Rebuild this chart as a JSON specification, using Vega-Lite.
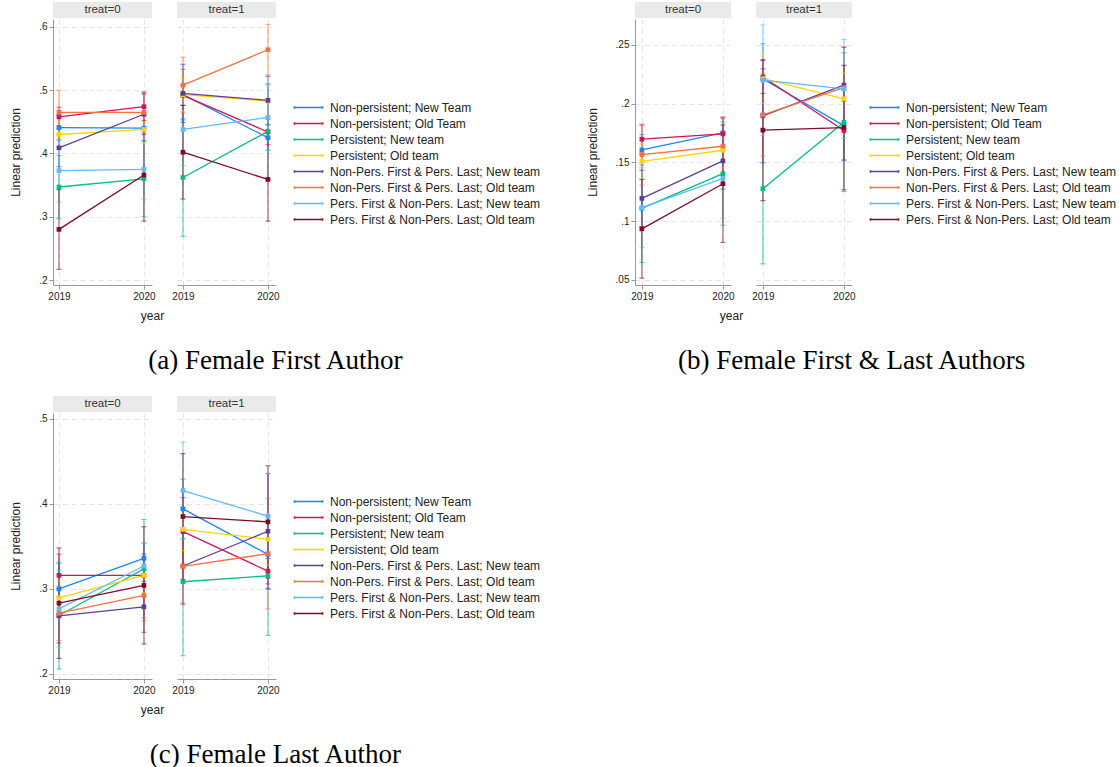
{
  "$schema": "https://vega.github.io/schema/vega-lite/v6.json",
  "padding": {"left": 9, "top": 2, "right": 0, "bottom": 0},
  "datasets": {
    "d": [
      {"f":"a","t":0,"g":"Non-persistent; New Team","year":2019,"est":0.441,"lo":0.421,"hi":0.461},
      {"f":"a","t":0,"g":"Non-persistent; New Team","year":2020,"est":0.440,"lo":0.420,"hi":0.460},
      {"f":"a","t":0,"g":"Non-persistent; Old Team","year":2019,"est":0.458,"lo":0.443,"hi":0.473},
      {"f":"a","t":0,"g":"Non-persistent; Old Team","year":2020,"est":0.474,"lo":0.452,"hi":0.496},
      {"f":"a","t":0,"g":"Persistent; New team","year":2019,"est":0.347,"lo":0.297,"hi":0.397},
      {"f":"a","t":0,"g":"Persistent; New team","year":2020,"est":0.360,"lo":0.300,"hi":0.420},
      {"f":"a","t":0,"g":"Persistent; Old team","year":2019,"est":0.430,"lo":0.410,"hi":0.450},
      {"f":"a","t":0,"g":"Persistent; Old team","year":2020,"est":0.438,"lo":0.416,"hi":0.460},
      {"f":"a","t":0,"g":"Non-Pers. First & Pers. Last; New team","year":2019,"est":0.409,"lo":0.379,"hi":0.439},
      {"f":"a","t":0,"g":"Non-Pers. First & Pers. Last; New team","year":2020,"est":0.462,"lo":0.430,"hi":0.494},
      {"f":"a","t":0,"g":"Non-Pers. First & Pers. Last; Old team","year":2019,"est":0.465,"lo":0.430,"hi":0.500},
      {"f":"a","t":0,"g":"Non-Pers. First & Pers. Last; Old team","year":2020,"est":0.465,"lo":0.432,"hi":0.498},
      {"f":"a","t":0,"g":"Pers. First & Non-Pers. Last; New team","year":2019,"est":0.373,"lo":0.323,"hi":0.423},
      {"f":"a","t":0,"g":"Pers. First & Non-Pers. Last; New team","year":2020,"est":0.375,"lo":0.327,"hi":0.423},
      {"f":"a","t":0,"g":"Pers. First & Non-Pers. Last; Old team","year":2019,"est":0.280,"lo":0.217,"hi":0.343},
      {"f":"a","t":0,"g":"Pers. First & Non-Pers. Last; Old team","year":2020,"est":0.366,"lo":0.293,"hi":0.439},

      {"f":"a","t":1,"g":"Non-persistent; New Team","year":2019,"est":0.493,"lo":0.453,"hi":0.533},
      {"f":"a","t":1,"g":"Non-persistent; New Team","year":2020,"est":0.425,"lo":0.405,"hi":0.445},
      {"f":"a","t":1,"g":"Non-persistent; Old Team","year":2019,"est":0.492,"lo":0.476,"hi":0.508},
      {"f":"a","t":1,"g":"Non-persistent; Old Team","year":2020,"est":0.434,"lo":0.414,"hi":0.454},
      {"f":"a","t":1,"g":"Persistent; New team","year":2019,"est":0.362,"lo":0.269,"hi":0.455},
      {"f":"a","t":1,"g":"Persistent; New team","year":2020,"est":0.435,"lo":0.360,"hi":0.510},
      {"f":"a","t":1,"g":"Persistent; Old team","year":2019,"est":0.493,"lo":0.467,"hi":0.519},
      {"f":"a","t":1,"g":"Persistent; Old team","year":2020,"est":0.483,"lo":0.458,"hi":0.508},
      {"f":"a","t":1,"g":"Non-Pers. First & Pers. Last; New team","year":2019,"est":0.495,"lo":0.449,"hi":0.541},
      {"f":"a","t":1,"g":"Non-Pers. First & Pers. Last; New team","year":2020,"est":0.484,"lo":0.446,"hi":0.522},
      {"f":"a","t":1,"g":"Non-Pers. First & Pers. Last; Old team","year":2019,"est":0.508,"lo":0.464,"hi":0.552},
      {"f":"a","t":1,"g":"Non-Pers. First & Pers. Last; Old team","year":2020,"est":0.564,"lo":0.524,"hi":0.604},
      {"f":"a","t":1,"g":"Pers. First & Non-Pers. Last; New team","year":2019,"est":0.438,"lo":0.381,"hi":0.495},
      {"f":"a","t":1,"g":"Pers. First & Non-Pers. Last; New team","year":2020,"est":0.457,"lo":0.405,"hi":0.509},
      {"f":"a","t":1,"g":"Pers. First & Non-Pers. Last; Old team","year":2019,"est":0.402,"lo":0.328,"hi":0.476},
      {"f":"a","t":1,"g":"Pers. First & Non-Pers. Last; Old team","year":2020,"est":0.359,"lo":0.293,"hi":0.425},

      {"f":"b","t":0,"g":"Non-persistent; New Team","year":2019,"est":0.1607,"lo":0.1477,"hi":0.1737},
      {"f":"b","t":0,"g":"Non-persistent; New Team","year":2020,"est":0.1752,"lo":0.1632,"hi":0.1872},
      {"f":"b","t":0,"g":"Non-persistent; Old Team","year":2019,"est":0.1698,"lo":0.1578,"hi":0.1818},
      {"f":"b","t":0,"g":"Non-persistent; Old Team","year":2020,"est":0.1743,"lo":0.1603,"hi":0.1883},
      {"f":"b","t":0,"g":"Persistent; New team","year":2019,"est":0.1109,"lo":0.0649,"hi":0.1569},
      {"f":"b","t":0,"g":"Persistent; New team","year":2020,"est":0.1405,"lo":0.0965,"hi":0.1845},
      {"f":"b","t":0,"g":"Persistent; Old team","year":2019,"est":0.151,"lo":0.136,"hi":0.166},
      {"f":"b","t":0,"g":"Persistent; Old team","year":2020,"est":0.1604,"lo":0.1454,"hi":0.1754},
      {"f":"b","t":0,"g":"Non-Pers. First & Pers. Last; New team","year":2019,"est":0.1194,"lo":0.0954,"hi":0.1434},
      {"f":"b","t":0,"g":"Non-Pers. First & Pers. Last; New team","year":2020,"est":0.1513,"lo":0.1273,"hi":0.1753},
      {"f":"b","t":0,"g":"Non-Pers. First & Pers. Last; Old team","year":2019,"est":0.1567,"lo":0.1307,"hi":0.1827},
      {"f":"b","t":0,"g":"Non-Pers. First & Pers. Last; Old team","year":2020,"est":0.1638,"lo":0.1388,"hi":0.1888},
      {"f":"b","t":0,"g":"Pers. First & Non-Pers. Last; New team","year":2019,"est":0.1115,"lo":0.0775,"hi":0.1455},
      {"f":"b","t":0,"g":"Pers. First & Non-Pers. Last; New team","year":2020,"est":0.1365,"lo":0.1025,"hi":0.1705},
      {"f":"b","t":0,"g":"Pers. First & Non-Pers. Last; Old team","year":2019,"est":0.0935,"lo":0.0515,"hi":0.1355},
      {"f":"b","t":0,"g":"Pers. First & Non-Pers. Last; Old team","year":2020,"est":0.1319,"lo":0.0819,"hi":0.1819},

      {"f":"b","t":1,"g":"Non-persistent; New Team","year":2019,"est":0.221,"lo":0.191,"hi":0.251},
      {"f":"b","t":1,"g":"Non-persistent; New Team","year":2020,"est":0.1814,"lo":0.1514,"hi":0.2114},
      {"f":"b","t":1,"g":"Non-persistent; Old Team","year":2019,"est":0.2227,"lo":0.2087,"hi":0.2367},
      {"f":"b","t":1,"g":"Non-persistent; Old Team","year":2020,"est":0.1772,"lo":0.1522,"hi":0.2022},
      {"f":"b","t":1,"g":"Persistent; New team","year":2019,"est":0.1277,"lo":0.0637,"hi":0.1917},
      {"f":"b","t":1,"g":"Persistent; New team","year":2020,"est":0.1843,"lo":0.1253,"hi":0.2433},
      {"f":"b","t":1,"g":"Persistent; Old team","year":2019,"est":0.2213,"lo":0.2003,"hi":0.2423},
      {"f":"b","t":1,"g":"Persistent; Old team","year":2020,"est":0.2042,"lo":0.1822,"hi":0.2262},
      {"f":"b","t":1,"g":"Non-Pers. First & Pers. Last; New team","year":2019,"est":0.1897,"lo":0.1497,"hi":0.2297},
      {"f":"b","t":1,"g":"Non-Pers. First & Pers. Last; New team","year":2020,"est":0.2159,"lo":0.1839,"hi":0.2479},
      {"f":"b","t":1,"g":"Non-Pers. First & Pers. Last; Old team","year":2019,"est":0.1905,"lo":0.1555,"hi":0.2255},
      {"f":"b","t":1,"g":"Non-Pers. First & Pers. Last; Old team","year":2020,"est":0.2136,"lo":0.1786,"hi":0.2486},
      {"f":"b","t":1,"g":"Pers. First & Non-Pers. Last; New team","year":2019,"est":0.2201,"lo":0.1731,"hi":0.2671},
      {"f":"b","t":1,"g":"Pers. First & Non-Pers. Last; New team","year":2020,"est":0.2127,"lo":0.1707,"hi":0.2547},
      {"f":"b","t":1,"g":"Pers. First & Non-Pers. Last; Old team","year":2019,"est":0.1775,"lo":0.1175,"hi":0.2375},
      {"f":"b","t":1,"g":"Pers. First & Non-Pers. Last; Old team","year":2020,"est":0.1797,"lo":0.1267,"hi":0.2327},

      {"f":"c","t":0,"g":"Non-persistent; New Team","year":2019,"est":0.300,"lo":0.270,"hi":0.330},
      {"f":"c","t":0,"g":"Non-persistent; New Team","year":2020,"est":0.336,"lo":0.318,"hi":0.354},
      {"f":"c","t":0,"g":"Non-persistent; Old Team","year":2019,"est":0.316,"lo":0.291,"hi":0.341},
      {"f":"c","t":0,"g":"Non-persistent; Old Team","year":2020,"est":0.316,"lo":0.291,"hi":0.341},
      {"f":"c","t":0,"g":"Persistent; New team","year":2019,"est":0.2688,"lo":0.2058,"hi":0.3318},
      {"f":"c","t":0,"g":"Persistent; New team","year":2020,"est":0.3238,"lo":0.2658,"hi":0.3818},
      {"f":"c","t":0,"g":"Persistent; Old team","year":2019,"est":0.2896,"lo":0.2696,"hi":0.3096},
      {"f":"c","t":0,"g":"Persistent; Old team","year":2020,"est":0.316,"lo":0.296,"hi":0.336},
      {"f":"c","t":0,"g":"Non-Pers. First & Pers. Last; New team","year":2019,"est":0.2684,"lo":0.2364,"hi":0.3004},
      {"f":"c","t":0,"g":"Non-Pers. First & Pers. Last; New team","year":2020,"est":0.279,"lo":0.249,"hi":0.309},
      {"f":"c","t":0,"g":"Non-Pers. First & Pers. Last; Old team","year":2019,"est":0.2715,"lo":0.2395,"hi":0.3035},
      {"f":"c","t":0,"g":"Non-Pers. First & Pers. Last; Old team","year":2020,"est":0.2924,"lo":0.2624,"hi":0.3224},
      {"f":"c","t":0,"g":"Pers. First & Non-Pers. Last; New team","year":2019,"est":0.2766,"lo":0.2316,"hi":0.3216},
      {"f":"c","t":0,"g":"Pers. First & Non-Pers. Last; New team","year":2020,"est":0.327,"lo":0.300,"hi":0.354},
      {"f":"c","t":0,"g":"Pers. First & Non-Pers. Last; Old team","year":2019,"est":0.2833,"lo":0.2183,"hi":0.3483},
      {"f":"c","t":0,"g":"Pers. First & Non-Pers. Last; Old team","year":2020,"est":0.3042,"lo":0.2352,"hi":0.3732},

      {"f":"c","t":1,"g":"Non-persistent; New Team","year":2019,"est":0.3942,"lo":0.3592,"hi":0.4292},
      {"f":"c","t":1,"g":"Non-persistent; New Team","year":2020,"est":0.3407,"lo":0.3007,"hi":0.3807},
      {"f":"c","t":1,"g":"Non-persistent; Old Team","year":2019,"est":0.3675,"lo":0.3275,"hi":0.4075},
      {"f":"c","t":1,"g":"Non-persistent; Old Team","year":2020,"est":0.321,"lo":0.306,"hi":0.336},
      {"f":"c","t":1,"g":"Persistent; New team","year":2019,"est":0.3085,"lo":0.2215,"hi":0.3955},
      {"f":"c","t":1,"g":"Persistent; New team","year":2020,"est":0.3155,"lo":0.2455,"hi":0.3855},
      {"f":"c","t":1,"g":"Persistent; Old team","year":2019,"est":0.3702,"lo":0.3452,"hi":0.3952},
      {"f":"c","t":1,"g":"Persistent; Old team","year":2020,"est":0.3584,"lo":0.3284,"hi":0.3884},
      {"f":"c","t":1,"g":"Non-Pers. First & Pers. Last; New team","year":2019,"est":0.327,"lo":0.282,"hi":0.372},
      {"f":"c","t":1,"g":"Non-Pers. First & Pers. Last; New team","year":2020,"est":0.3679,"lo":0.2999,"hi":0.4359},
      {"f":"c","t":1,"g":"Non-Pers. First & Pers. Last; Old team","year":2019,"est":0.3266,"lo":0.2836,"hi":0.3696},
      {"f":"c","t":1,"g":"Non-Pers. First & Pers. Last; Old team","year":2020,"est":0.3415,"lo":0.2765,"hi":0.4065},
      {"f":"c","t":1,"g":"Pers. First & Non-Pers. Last; New team","year":2019,"est":0.4158,"lo":0.3588,"hi":0.4728},
      {"f":"c","t":1,"g":"Pers. First & Non-Pers. Last; New team","year":2020,"est":0.3856,"lo":0.3356,"hi":0.4356},
      {"f":"c","t":1,"g":"Pers. First & Non-Pers. Last; Old team","year":2019,"est":0.3852,"lo":0.3112,"hi":0.4592},
      {"f":"c","t":1,"g":"Pers. First & Non-Pers. Last; Old team","year":2020,"est":0.3789,"lo":0.3129,"hi":0.4449}
    ]
  },
  "vconcat": [
    {
      "hconcat": [
        {
          "title": {"text": "(a) Female First Author", "orient": "bottom", "anchor": "middle", "frame": "bounds", "font": "Liberation Serif", "fontSize": 27, "fontWeight": "normal", "color": "#000", "offset": 27},
          "spacing": 7,
          "hconcat": [
            {
              "spacing": 1,
              "vconcat": [
                {"width": 99, "height": 16, "data": {"values": [{"label": "treat=0"}]},
                 "layer": [
                   {"mark": {"type": "rect", "color": "#eaeaea"}, "encoding": {}},
                   {"mark": {"type": "text", "font": "Liberation Sans", "fontSize": 11.5, "color": "#333", "baseline": "middle"}, "encoding": {"text": {"field": "label", "type": "nominal"}}}
                 ]},
                {"width": 99, "height": 266, "data": {"name": "d"},
                 "transform": [{"filter": "datum.f == 'a' && datum.t == 0"}],
                 "encoding": {
                   "x": {"field": "year", "type": "quantitative", "scale": {"domain": [2018.93, 2020.095], "nice": false, "zero": false}, "axis": {"values": [2019, 2020], "format": "d", "title": "year", "titleX": 99, "titleAlign": "center", "grid": true}},
                   "color": {"field": "g", "type": "nominal", "scale": {"domain": ["Non-persistent; New Team","Non-persistent; Old Team","Persistent; New team","Persistent; Old team","Non-Pers. First & Pers. Last; New team","Non-Pers. First & Pers. Last; Old team","Pers. First & Non-Pers. Last; New team","Pers. First & Non-Pers. Last; Old team"], "range": ["#1a85ff","#d41159","#00bf7f","#ffd400","#5e3c99","#ff6e40","#5fbaff","#820a24"]},
                     "legend": {"title": null, "symbolType": "M-1.65,0H1.65M-1.65,-0.15V0.15M1.65,-0.15V0.15", "symbolSize": 289, "symbolStrokeWidth": 1.6, "symbolOpacity": 1, "labelFont": "Liberation Sans", "labelFontSize": 12, "labelColor": "#222", "labelOffset": 12, "rowPadding": 0, "offset": 19, "labelLimit": 300}}
                 },
                 "layer": [
                   {"mark": {"type": "rule", "strokeWidth": 1.5, "opacity": 0.5}, "encoding": {"y": {"field": "lo", "type": "quantitative", "title": "Linear prediction", "scale": {"domain": [0.1921, 0.6126], "nice": false, "zero": false}, "axis": {"values": [0.2, 0.3, 0.4, 0.5, 0.6], "labelExpr": "replace(format(datum.value, '.2~f'), '0.', '.')", "grid": true, "titlePadding": 16}}, "y2": {"field": "hi"}}},
                   {"mark": {"type": "tick", "orient": "horizontal", "size": 5, "thickness": 1.2, "opacity": 0.6}, "encoding": {"y": {"field": "lo", "type": "quantitative", "title": "Linear prediction"}}},
                   {"mark": {"type": "tick", "orient": "horizontal", "size": 5, "thickness": 1.2, "opacity": 0.6}, "encoding": {"y": {"field": "hi", "type": "quantitative", "title": "Linear prediction"}}},
                   {"mark": {"type": "line", "strokeWidth": 1.3}, "encoding": {"y": {"field": "est", "type": "quantitative", "title": "Linear prediction"}}},
                   {"mark": {"type": "point", "filled": true, "shape": "square", "size": 22, "opacity": 1}, "encoding": {"y": {"field": "est", "type": "quantitative", "title": "Linear prediction"}}}
                 ]}
              ]
            },
            {
              "spacing": 1,
              "vconcat": [
                {"width": 99, "height": 16, "data": {"values": [{"label": "treat=1"}]},
                 "layer": [
                   {"mark": {"type": "rect", "color": "#eaeaea"}, "encoding": {}},
                   {"mark": {"type": "text", "font": "Liberation Sans", "fontSize": 11.5, "color": "#333", "baseline": "middle"}, "encoding": {"text": {"field": "label", "type": "nominal"}}}
                 ]},
                {"width": 99, "height": 266, "data": {"name": "d"},
                 "transform": [{"filter": "datum.f == 'a' && datum.t == 1"}],
                 "encoding": {
                   "x": {"field": "year", "type": "quantitative", "scale": {"domain": [2018.93, 2020.095], "nice": false, "zero": false}, "axis": {"values": [2019, 2020], "format": "d", "title": null, "grid": true}},
                   "color": {"field": "g", "type": "nominal", "scale": {"domain": ["Non-persistent; New Team","Non-persistent; Old Team","Persistent; New team","Persistent; Old team","Non-Pers. First & Pers. Last; New team","Non-Pers. First & Pers. Last; Old team","Pers. First & Non-Pers. Last; New team","Pers. First & Non-Pers. Last; Old team"], "range": ["#1a85ff","#d41159","#00bf7f","#ffd400","#5e3c99","#ff6e40","#5fbaff","#820a24"]},
                     "legend": {"title": null, "symbolType": "M-1.65,0H1.65M-1.65,-0.15V0.15M1.65,-0.15V0.15", "symbolSize": 289, "symbolStrokeWidth": 1.6, "symbolOpacity": 1, "labelFont": "Liberation Sans", "labelFontSize": 12, "labelColor": "#222", "labelOffset": 12, "rowPadding": 0, "offset": 19, "labelLimit": 300}}
                 },
                 "layer": [
                   {"mark": {"type": "rule", "strokeWidth": 1.5, "opacity": 0.5}, "encoding": {"y": {"field": "lo", "type": "quantitative", "title": null, "scale": {"domain": [0.1921, 0.6126], "nice": false, "zero": false}, "axis": {"values": [0.2, 0.3, 0.4, 0.5, 0.6], "labels": false, "ticks": false, "domain": false, "title": null, "grid": true}}, "y2": {"field": "hi"}}},
                   {"mark": {"type": "tick", "orient": "horizontal", "size": 5, "thickness": 1.2, "opacity": 0.6}, "encoding": {"y": {"field": "lo", "type": "quantitative", "title": null}}},
                   {"mark": {"type": "tick", "orient": "horizontal", "size": 5, "thickness": 1.2, "opacity": 0.6}, "encoding": {"y": {"field": "hi", "type": "quantitative", "title": null}}},
                   {"mark": {"type": "line", "strokeWidth": 1.3}, "encoding": {"y": {"field": "est", "type": "quantitative", "title": null}}},
                   {"mark": {"type": "point", "filled": true, "shape": "square", "size": 22, "opacity": 1}, "encoding": {"y": {"field": "est", "type": "quantitative", "title": null}}}
                 ]}
              ]
            }
          ]
        },
        {
          "title": {"text": "(b) Female First & Last Authors", "orient": "bottom", "anchor": "middle", "frame": "bounds", "font": "Liberation Serif", "fontSize": 27, "fontWeight": "normal", "color": "#000", "offset": 27},
          "spacing": 8,
          "hconcat": [
            {
              "spacing": 1,
              "vconcat": [
                {"width": 96, "height": 16, "data": {"values": [{"label": "treat=0"}]},
                 "layer": [
                   {"mark": {"type": "rect", "color": "#eaeaea"}, "encoding": {}},
                   {"mark": {"type": "text", "font": "Liberation Sans", "fontSize": 11.5, "color": "#333", "baseline": "middle"}, "encoding": {"text": {"field": "label", "type": "nominal"}}}
                 ]},
                {"width": 96, "height": 266, "data": {"name": "d"},
                 "transform": [{"filter": "datum.f == 'b' && datum.t == 0"}],
                 "encoding": {
                   "x": {"field": "year", "type": "quantitative", "scale": {"domain": [2018.915, 2020.1], "nice": false, "zero": false}, "axis": {"values": [2019, 2020], "format": "d", "title": "year", "titleX": 96, "titleAlign": "center", "grid": true}},
                   "color": {"field": "g", "type": "nominal", "scale": {"domain": ["Non-persistent; New Team","Non-persistent; Old Team","Persistent; New team","Persistent; Old team","Non-Pers. First & Pers. Last; New team","Non-Pers. First & Pers. Last; Old team","Pers. First & Non-Pers. Last; New team","Pers. First & Non-Pers. Last; Old team"], "range": ["#1a85ff","#d41159","#00bf7f","#ffd400","#5e3c99","#ff6e40","#5fbaff","#820a24"]},
                     "legend": {"title": null, "symbolType": "M-1.65,0H1.65M-1.65,-0.15V0.15M1.65,-0.15V0.15", "symbolSize": 289, "symbolStrokeWidth": 1.6, "symbolOpacity": 1, "labelFont": "Liberation Sans", "labelFontSize": 12, "labelColor": "#222", "labelOffset": 12, "rowPadding": 0, "offset": 19, "labelLimit": 300}}
                 },
                 "layer": [
                   {"mark": {"type": "rule", "strokeWidth": 1.5, "opacity": 0.5}, "encoding": {"y": {"field": "lo", "type": "quantitative", "title": "Linear prediction", "scale": {"domain": [0.0457, 0.2721], "nice": false, "zero": false}, "axis": {"values": [0.05, 0.1, 0.15, 0.2, 0.25], "labelExpr": "replace(format(datum.value, '.2~f'), '0.', '.')", "grid": true, "titlePadding": 16}}, "y2": {"field": "hi"}}},
                   {"mark": {"type": "tick", "orient": "horizontal", "size": 5, "thickness": 1.2, "opacity": 0.6}, "encoding": {"y": {"field": "lo", "type": "quantitative", "title": "Linear prediction"}}},
                   {"mark": {"type": "tick", "orient": "horizontal", "size": 5, "thickness": 1.2, "opacity": 0.6}, "encoding": {"y": {"field": "hi", "type": "quantitative", "title": "Linear prediction"}}},
                   {"mark": {"type": "line", "strokeWidth": 1.3}, "encoding": {"y": {"field": "est", "type": "quantitative", "title": "Linear prediction"}}},
                   {"mark": {"type": "point", "filled": true, "shape": "square", "size": 22, "opacity": 1}, "encoding": {"y": {"field": "est", "type": "quantitative", "title": "Linear prediction"}}}
                 ]}
              ]
            },
            {
              "spacing": 1,
              "vconcat": [
                {"width": 96, "height": 16, "data": {"values": [{"label": "treat=1"}]},
                 "layer": [
                   {"mark": {"type": "rect", "color": "#eaeaea"}, "encoding": {}},
                   {"mark": {"type": "text", "font": "Liberation Sans", "fontSize": 11.5, "color": "#333", "baseline": "middle"}, "encoding": {"text": {"field": "label", "type": "nominal"}}}
                 ]},
                {"width": 96, "height": 266, "data": {"name": "d"},
                 "transform": [{"filter": "datum.f == 'b' && datum.t == 1"}],
                 "encoding": {
                   "x": {"field": "year", "type": "quantitative", "scale": {"domain": [2018.915, 2020.1], "nice": false, "zero": false}, "axis": {"values": [2019, 2020], "format": "d", "title": null, "grid": true}},
                   "color": {"field": "g", "type": "nominal", "scale": {"domain": ["Non-persistent; New Team","Non-persistent; Old Team","Persistent; New team","Persistent; Old team","Non-Pers. First & Pers. Last; New team","Non-Pers. First & Pers. Last; Old team","Pers. First & Non-Pers. Last; New team","Pers. First & Non-Pers. Last; Old team"], "range": ["#1a85ff","#d41159","#00bf7f","#ffd400","#5e3c99","#ff6e40","#5fbaff","#820a24"]},
                     "legend": {"title": null, "symbolType": "M-1.65,0H1.65M-1.65,-0.15V0.15M1.65,-0.15V0.15", "symbolSize": 289, "symbolStrokeWidth": 1.6, "symbolOpacity": 1, "labelFont": "Liberation Sans", "labelFontSize": 12, "labelColor": "#222", "labelOffset": 12, "rowPadding": 0, "offset": 19, "labelLimit": 300}}
                 },
                 "layer": [
                   {"mark": {"type": "rule", "strokeWidth": 1.5, "opacity": 0.5}, "encoding": {"y": {"field": "lo", "type": "quantitative", "title": null, "scale": {"domain": [0.0457, 0.2721], "nice": false, "zero": false}, "axis": {"values": [0.05, 0.1, 0.15, 0.2, 0.25], "labels": false, "ticks": false, "domain": false, "title": null, "grid": true}}, "y2": {"field": "hi"}}},
                   {"mark": {"type": "tick", "orient": "horizontal", "size": 5, "thickness": 1.2, "opacity": 0.6}, "encoding": {"y": {"field": "lo", "type": "quantitative", "title": null}}},
                   {"mark": {"type": "tick", "orient": "horizontal", "size": 5, "thickness": 1.2, "opacity": 0.6}, "encoding": {"y": {"field": "hi", "type": "quantitative", "title": null}}},
                   {"mark": {"type": "line", "strokeWidth": 1.3}, "encoding": {"y": {"field": "est", "type": "quantitative", "title": null}}},
                   {"mark": {"type": "point", "filled": true, "shape": "square", "size": 22, "opacity": 1}, "encoding": {"y": {"field": "est", "type": "quantitative", "title": null}}}
                 ]}
              ]
            }
          ]
        }
      ],
      "spacing": 45,
      "resolve": {"scale": {"color": "independent"}, "legend": {"color": "independent"}}
    },
    {
      "title": {"text": "(c) Female Last Author", "orient": "bottom", "anchor": "middle", "frame": "bounds", "font": "Liberation Serif", "fontSize": 27, "fontWeight": "normal", "color": "#000", "offset": 27},
      "spacing": 7,
      "hconcat": [
        {
          "spacing": 1,
          "vconcat": [
            {"width": 99, "height": 16, "data": {"values": [{"label": "treat=0"}]},
             "layer": [
               {"mark": {"type": "rect", "color": "#eaeaea"}, "encoding": {}},
               {"mark": {"type": "text", "font": "Liberation Sans", "fontSize": 11.5, "color": "#333", "baseline": "middle"}, "encoding": {"text": {"field": "label", "type": "nominal"}}}
             ]},
            {"width": 99, "height": 266, "data": {"name": "d"},
             "transform": [{"filter": "datum.f == 'c' && datum.t == 0"}],
             "encoding": {
               "x": {"field": "year", "type": "quantitative", "scale": {"domain": [2018.93, 2020.095], "nice": false, "zero": false}, "axis": {"values": [2019, 2020], "format": "d", "title": "year", "titleX": 99, "titleAlign": "center", "grid": true}},
               "color": {"field": "g", "type": "nominal", "scale": {"domain": ["Non-persistent; New Team","Non-persistent; Old Team","Persistent; New team","Persistent; Old team","Non-Pers. First & Pers. Last; New team","Non-Pers. First & Pers. Last; Old team","Pers. First & Non-Pers. Last; New team","Pers. First & Non-Pers. Last; Old team"], "range": ["#1a85ff","#d41159","#00bf7f","#ffd400","#5e3c99","#ff6e40","#5fbaff","#820a24"]},
                 "legend": {"title": null, "symbolType": "M-1.65,0H1.65M-1.65,-0.15V0.15M1.65,-0.15V0.15", "symbolSize": 289, "symbolStrokeWidth": 1.6, "symbolOpacity": 1, "labelFont": "Liberation Sans", "labelFontSize": 12, "labelColor": "#222", "labelOffset": 12, "rowPadding": 0, "offset": 19, "labelLimit": 300}}
             },
             "layer": [
               {"mark": {"type": "rule", "strokeWidth": 1.5, "opacity": 0.5}, "encoding": {"y": {"field": "lo", "type": "quantitative", "title": "Linear prediction", "scale": {"domain": [0.1941, 0.507], "nice": false, "zero": false}, "axis": {"values": [0.2, 0.3, 0.4, 0.5], "labelExpr": "replace(format(datum.value, '.2~f'), '0.', '.')", "grid": true, "titlePadding": 16}}, "y2": {"field": "hi"}}},
               {"mark": {"type": "tick", "orient": "horizontal", "size": 5, "thickness": 1.2, "opacity": 0.6}, "encoding": {"y": {"field": "lo", "type": "quantitative", "title": "Linear prediction"}}},
               {"mark": {"type": "tick", "orient": "horizontal", "size": 5, "thickness": 1.2, "opacity": 0.6}, "encoding": {"y": {"field": "hi", "type": "quantitative", "title": "Linear prediction"}}},
               {"mark": {"type": "line", "strokeWidth": 1.3}, "encoding": {"y": {"field": "est", "type": "quantitative", "title": "Linear prediction"}}},
               {"mark": {"type": "point", "filled": true, "shape": "square", "size": 22, "opacity": 1}, "encoding": {"y": {"field": "est", "type": "quantitative", "title": "Linear prediction"}}}
             ]}
          ]
        },
        {
          "spacing": 1,
          "vconcat": [
            {"width": 99, "height": 16, "data": {"values": [{"label": "treat=1"}]},
             "layer": [
               {"mark": {"type": "rect", "color": "#eaeaea"}, "encoding": {}},
               {"mark": {"type": "text", "font": "Liberation Sans", "fontSize": 11.5, "color": "#333", "baseline": "middle"}, "encoding": {"text": {"field": "label", "type": "nominal"}}}
             ]},
            {"width": 99, "height": 266, "data": {"name": "d"},
             "transform": [{"filter": "datum.f == 'c' && datum.t == 1"}],
             "encoding": {
               "x": {"field": "year", "type": "quantitative", "scale": {"domain": [2018.93, 2020.095], "nice": false, "zero": false}, "axis": {"values": [2019, 2020], "format": "d", "title": null, "grid": true}},
               "color": {"field": "g", "type": "nominal", "scale": {"domain": ["Non-persistent; New Team","Non-persistent; Old Team","Persistent; New team","Persistent; Old team","Non-Pers. First & Pers. Last; New team","Non-Pers. First & Pers. Last; Old team","Pers. First & Non-Pers. Last; New team","Pers. First & Non-Pers. Last; Old team"], "range": ["#1a85ff","#d41159","#00bf7f","#ffd400","#5e3c99","#ff6e40","#5fbaff","#820a24"]},
                 "legend": {"title": null, "symbolType": "M-1.65,0H1.65M-1.65,-0.15V0.15M1.65,-0.15V0.15", "symbolSize": 289, "symbolStrokeWidth": 1.6, "symbolOpacity": 1, "labelFont": "Liberation Sans", "labelFontSize": 12, "labelColor": "#222", "labelOffset": 12, "rowPadding": 0, "offset": 19, "labelLimit": 300}}
             },
             "layer": [
               {"mark": {"type": "rule", "strokeWidth": 1.5, "opacity": 0.5}, "encoding": {"y": {"field": "lo", "type": "quantitative", "title": null, "scale": {"domain": [0.1941, 0.507], "nice": false, "zero": false}, "axis": {"values": [0.2, 0.3, 0.4, 0.5], "labels": false, "ticks": false, "domain": false, "title": null, "grid": true}}, "y2": {"field": "hi"}}},
               {"mark": {"type": "tick", "orient": "horizontal", "size": 5, "thickness": 1.2, "opacity": 0.6}, "encoding": {"y": {"field": "lo", "type": "quantitative", "title": null}}},
               {"mark": {"type": "tick", "orient": "horizontal", "size": 5, "thickness": 1.2, "opacity": 0.6}, "encoding": {"y": {"field": "hi", "type": "quantitative", "title": null}}},
               {"mark": {"type": "line", "strokeWidth": 1.3}, "encoding": {"y": {"field": "est", "type": "quantitative", "title": null}}},
               {"mark": {"type": "point", "filled": true, "shape": "square", "size": 22, "opacity": 1}, "encoding": {"y": {"field": "est", "type": "quantitative", "title": null}}}
             ]}
          ]
        }
      ]
    }
  ],
  "spacing": 22,
  "resolve": {"scale": {"color": "independent"}, "legend": {"color": "independent"}},
  "config": {
    "font": "Liberation Sans",
    "view": {"stroke": null},
    "legend": {"layout": {"right": {"anchor": "middle"}}},
    "axis": {"labelFont": "Liberation Sans", "titleFont": "Liberation Sans", "labelFontSize": 10, "titleFontSize": 12, "titleFontWeight": "normal", "labelColor": "#222", "titleColor": "#222", "domainColor": "#999", "tickColor": "#999", "tickSize": 4, "labelPadding": 2, "titlePadding": 9, "gridColor": "#e4e4e4", "gridDash": [5, 4]}
  }
}
